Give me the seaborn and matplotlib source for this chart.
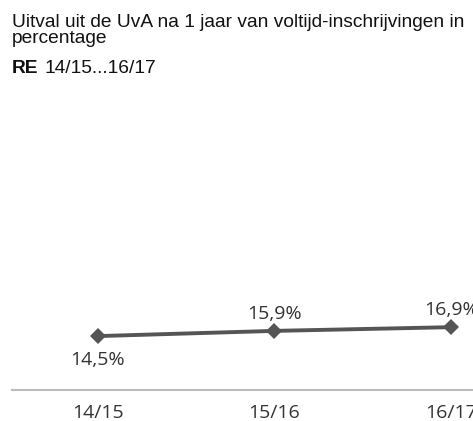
import numpy as np
import pandas as pd
import seaborn as sns
import matplotlib.pyplot as plt

years = ["14/15", "15/16", "16/17"]
uitval = [14.5, 15.9, 16.9]
labels = ["14,5%", "15,9%", "16,9%"]

sns.set_theme(style="white")
plt.rcParams['font.family'] = ['Open Sans', 'DejaVu Sans']

df = pd.DataFrame({"jaar": np.arange(len(years)), "uitval": uitval})

fig = plt.figure(figsize=(4.73, 4.21), dpi=100)
ax = fig.add_axes([12 / 473, 31 / 421, 461 / 473, 290 / 421])

sns.lineplot(data=df, x="jaar", y="uitval", color="#555555", linewidth=2.8,
             marker="D", markersize=8.5, markeredgewidth=0, ax=ax)

# value labels: first below, rest above
for i, (v, lab) in enumerate(zip(uitval, labels)):
    if i == 0:
        ax.annotate(lab, (i, v), xytext=(0, -11), textcoords="offset points",
                    ha="center", va="top", fontsize=14, color="#333333")
    else:
        ax.annotate(lab, (i, v), xytext=(0, 6), textcoords="offset points",
                    ha="center", va="bottom", fontsize=14, color="#333333")

ax.set_xlim(-0.486, 2.124)
ax.set_ylim(0, 78)
ax.set_xticks(range(len(years)))
ax.set_xticklabels(years, fontsize=14, color="#333333")
ax.set_yticks([])
ax.set_xlabel("")
ax.set_ylabel("")
for s in ["top", "left", "right"]:
    ax.spines[s].set_visible(False)
ax.spines["bottom"].set_color("#bbbbbb")
ax.spines["bottom"].set_linewidth(1.5)
ax.tick_params(axis="x", length=0, pad=10)

title_font = dict(ha="left", va="baseline", fontsize=13.8,
                  family=["Liberation Sans"], color="#111111")
fig.text(12 / 473, 1 - 27 / 421,
         "Uitval uit de UvA na 1 jaar van voltijd-inschrijvingen in", **title_font)
fig.text(12 / 473, 1 - 43 / 421, "percentage", **title_font)
fig.text(12 / 473, 1 - 73 / 421, "RE", fontweight="bold", **title_font)
fig.text(44 / 473, 1 - 73 / 421, "14/15...16/17", **title_font)

plt.savefig("out.png", dpi=100)
